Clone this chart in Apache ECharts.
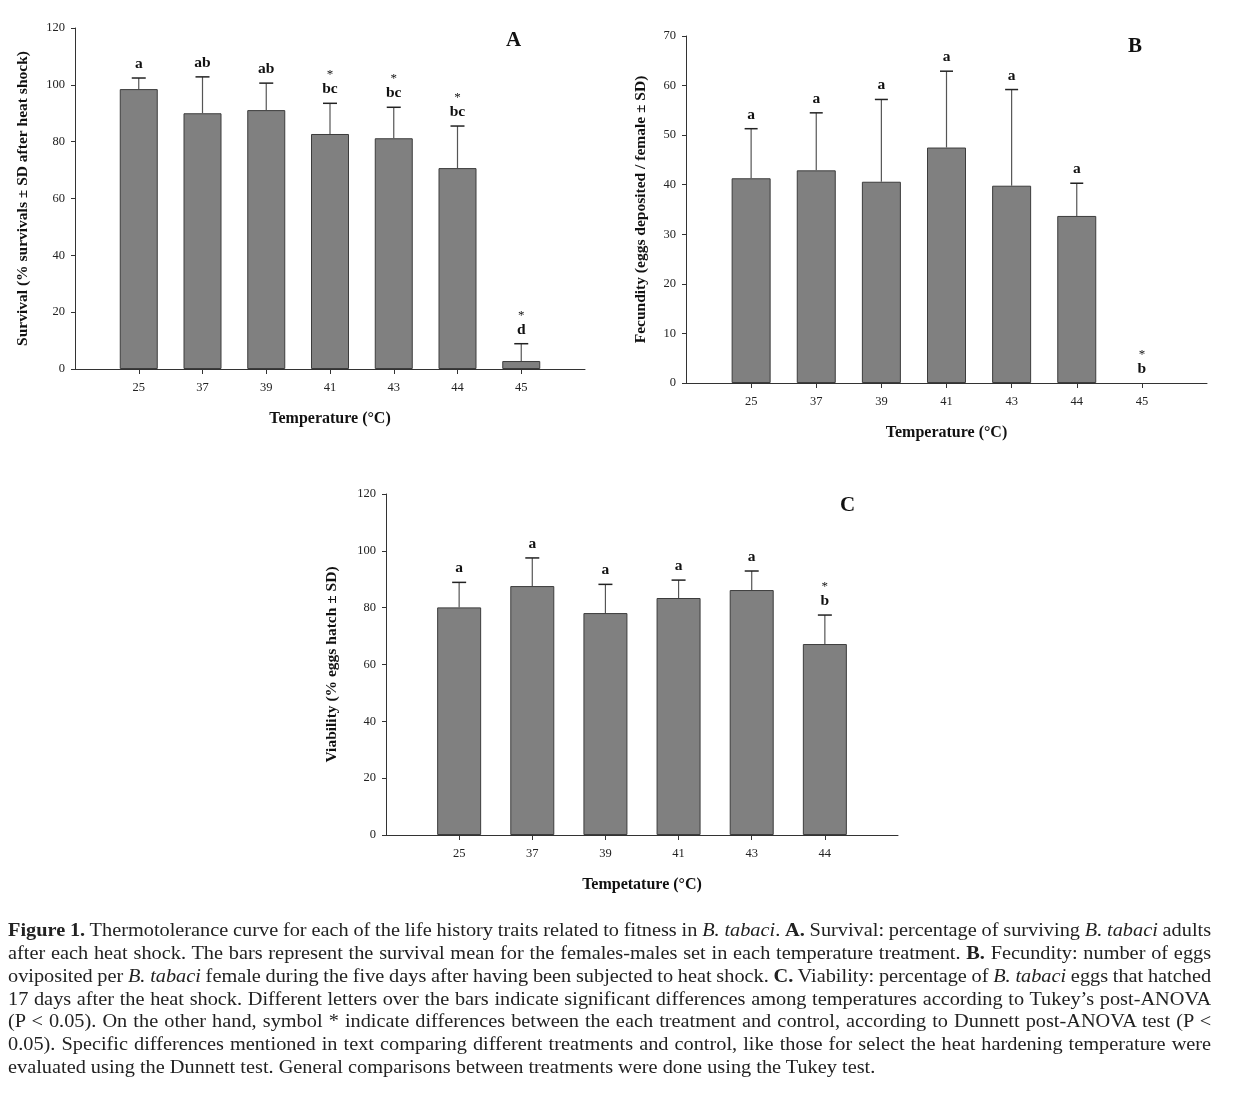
<!DOCTYPE html>
<html><head><meta charset="utf-8">
<script src="https://cdn.jsdelivr.net/npm/echarts@6/dist/echarts.min.js"></script>
<style>
html,body{margin:0;padding:0;background:#fff;}
#chart{position:absolute;left:0;top:0;width:1257px;height:1108px;}
#cap{position:absolute;left:8px;top:919px;width:1060px;transform:scaleX(1.135);transform-origin:0 0;font-family:"Liberation Serif","Times New Roman",serif;font-size:17.9px;line-height:22.85px;color:#222;}
#cap div{text-align:justify;text-align-last:justify;white-space:nowrap;word-spacing:-0.7px;}
#cap div.last{text-align:left;text-align-last:left;word-spacing:0;}
</style>
</head><body>
<div id="chart"></div>
<div id="cap">
<div><b>Figure 1.</b> Thermotolerance curve for each of the life history traits related to fitness in <i>B. tabaci</i>. <b>A.</b> Survival: percentage of surviving <i>B. tabaci</i> adults</div>
<div>after each heat shock. The bars represent the survival mean for the females-males set in each temperature treatment. <b>B.</b> Fecundity: number of eggs</div>
<div>oviposited per <i>B. tabaci</i> female during the five days after having been subjected to heat shock. <b>C.</b> Viability: percentage of <i>B. tabaci</i> eggs that hatched</div>
<div>17 days after the heat shock. Different letters over the bars indicate significant differences among temperatures according to Tukey’s post-ANOVA</div>
<div>(P &lt; 0.05). On the other hand, symbol * indicate differences between the each treatment and control, according to Dunnett post-ANOVA test (P &lt;</div>
<div>0.05). Specific differences mentioned in text comparing different treatments and control, like those for select the heat hardening temperature were</div>
<div class="last">evaluated using the Dunnett test. General comparisons between treatments were done using the Tukey test.</div>
</div>
<script>
// ---- DATA ----
const tempsAB = ['25','37','39','41','43','44','45'];
const tempsC = ['25','37','39','41','43','44'];

const survivalMean = [98.5, 90.0, 91.1, 82.7, 81.2, 70.7, 2.8];
const survivalUpper = [102.4, 102.8, 100.6, 93.5, 92.1, 85.5, 8.9];
const survivalLetters = ['a','ab','ab','bc','bc','bc','d'];
const survivalStars = [false,false,false,true,true,true,true];

const fecundityMean = [41.3, 42.9, 40.6, 47.5, 39.8, 33.7, 0];
const fecundityUpper = [51.3, 54.5, 57.2, 62.9, 59.2, 40.3, 0];
const fecundityLetters = ['a','a','a','a','a','a','b'];
const fecundityStars = [false,false,false,false,false,false,true];

const viabilityMean = [80.1, 87.6, 78.1, 83.4, 86.2, 67.2];
const viabilityUpper = [88.9, 97.5, 88.2, 89.7, 92.9, 77.4];
const viabilityLetters = ['a','a','a','a','a','b'];
const viabilityStars = [false,false,false,false,false,true];

// ---- CHART ----
const FONT = '"Liberation Serif","Times New Roman",serif';
const AXC = '#333';
const pad = t => [''].concat(t, ['']);

function xAxisFor(gi, temps, title){
  const cats = pad(temps);
  return {
    type:'category', gridIndex:gi, data:cats, boundaryGap:false,
    axisLine:{lineStyle:{color:AXC,width:1}},
    axisTick:{length:5, interval:(i)=> i>0 && i<cats.length-1, lineStyle:{color:AXC}},
    axisLabel:{interval:0, margin:12, fontFamily:FONT, fontSize:12.5, color:'#222'},
    name:title, nameLocation:'middle', nameGap:42,
    nameTextStyle:{fontFamily:FONT, fontSize:16, fontWeight:'bold', color:'#111'}
  };
}
function yAxisFor(gi, max, interval, title, gap){
  return {
    type:'value', gridIndex:gi, min:0, max:max, interval:interval,
    splitLine:{show:false},
    axisLine:{show:true, lineStyle:{color:AXC,width:1}},
    axisTick:{show:true, length:4, lineStyle:{color:AXC}},
    axisLabel:{margin:10, fontFamily:FONT, fontSize:12.5, color:'#222'},
    name:title, nameLocation:'middle', nameGap:gap, nameRotate:90,
    nameTextStyle:{fontFamily:FONT, fontSize:15.5, fontWeight:'bold', color:'#111'}
  };
}
function barSeries(gi, means, width){
  return {
    type:'bar', xAxisIndex:gi, yAxisIndex:gi, barWidth:width,
    data: means.map((v,i)=> v === 0 ? {value:[i+1, v], itemStyle:{borderWidth:0, opacity:0}} : [i+1, v]),
    itemStyle:{color:'#808080', borderColor:'#3c3c3c', borderWidth:1},
    silent:true, animation:false
  };
}
function errSeries(gi, means, uppers, capHalf){
  return {
    type:'custom', xAxisIndex:gi, yAxisIndex:gi, silent:true, animation:false, z:3,
    data: means.map((v,i)=>[i+1, v, uppers[i]]),
    renderItem:function(params, api){
      const x = api.value(0), m = api.value(1), u = api.value(2);
      if (!(u > m)) return {type:'group', children:[]};
      const p0 = api.coord([x, m]), p1 = api.coord([x, u]);
      return {type:'group', children:[
        {type:'line', shape:{x1:p0[0], y1:p0[1], x2:p1[0], y2:p1[1]}, style:{stroke:'#555', lineWidth:1.2}},
        {type:'line', shape:{x1:p1[0]-capHalf, y1:p1[1], x2:p1[0]+capHalf, y2:p1[1]}, style:{stroke:'#222', lineWidth:1.5}}
      ]};
    }
  };
}
function labelSeries(gi, uppers, letters, stars){
  return {
    type:'custom', xAxisIndex:gi, yAxisIndex:gi, silent:true, animation:false, z:4,
    data: uppers.map((u,i)=>[i+1, u]),
    renderItem:function(params, api){
      const i = params.dataIndex;
      const p = api.coord([api.value(0), api.value(1)]);
      const txt = (stars[i] ? '{s|*}\n' : '') + '{l|' + letters[i] + '}';
      return {type:'text', x:p[0], y:p[1]-6, style:{
        text:txt, align:'center', verticalAlign:'bottom',
        rich:{
          s:{fontFamily:FONT, fontSize:13, fill:'#111', lineHeight:13, align:'center'},
          l:{fontFamily:FONT, fontSize:15.5, fontWeight:'bold', fill:'#111', lineHeight:16, align:'center'}
        }
      }};
    }
  };
}

const chart = echarts.init(document.getElementById('chart'), null, {renderer:'canvas'});
chart.setOption({
  backgroundColor:'#fff',
  animation:false,
  title:[
    {text:'A', left:501, top:25, textStyle:{fontFamily:FONT, fontSize:21, fontWeight:'bold', color:'#111'}},
    {text:'B', left:1123, top:31, textStyle:{fontFamily:FONT, fontSize:21, fontWeight:'bold', color:'#111'}},
    {text:'C', left:835, top:490, textStyle:{fontFamily:FONT, fontSize:21, fontWeight:'bold', color:'#111'}}
  ],
  grid:[
    {left:75, top:28, width:510, height:341},
    {left:686, top:36, width:521, height:347},
    {left:386, top:494, width:512, height:341}
  ],
  xAxis:[
    xAxisFor(0, tempsAB, 'Temperature (°C)'),
    xAxisFor(1, tempsAB, 'Temperature (°C)'),
    xAxisFor(2, tempsC, 'Tempetature (°C)')
  ],
  yAxis:[
    yAxisFor(0, 120, 20, 'Survival (% survivals ± SD after heat shock)', 44),
    yAxisFor(1, 70, 10, 'Fecundity (eggs deposited / female ± SD)', 37),
    yAxisFor(2, 120, 20, 'Viability (% eggs hatch ± SD)', 46)
  ],
  series:[
    barSeries(0, survivalMean, 38),
    errSeries(0, survivalMean, survivalUpper, 7),
    labelSeries(0, survivalUpper, survivalLetters, survivalStars),
    barSeries(1, fecundityMean, 39),
    errSeries(1, fecundityMean, fecundityUpper, 6.5),
    labelSeries(1, fecundityUpper, fecundityLetters, fecundityStars),
    barSeries(2, viabilityMean, 44),
    errSeries(2, viabilityMean, viabilityUpper, 7),
    labelSeries(2, viabilityUpper, viabilityLetters, viabilityStars)
  ]
});
</script>
</body></html>
